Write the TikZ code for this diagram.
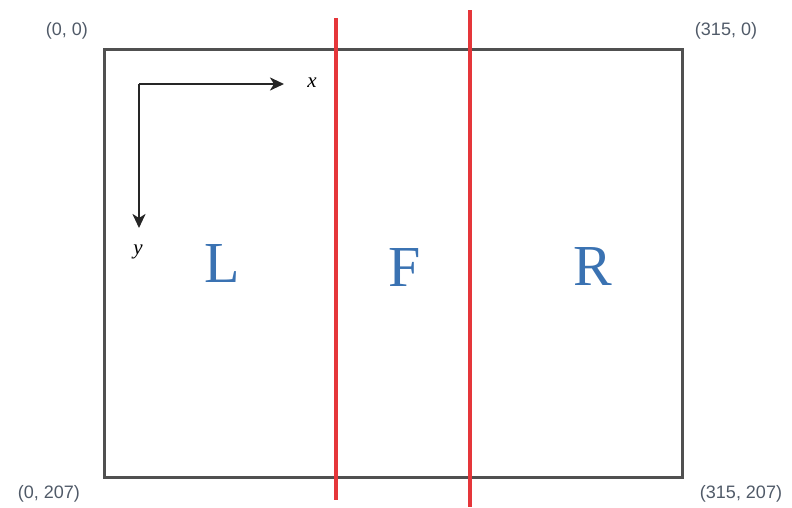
\documentclass[tikz,border=0pt]{standalone}
\usepackage{fontspec}
\setmainfont{Liberation Serif}
\newfontfamily\lblfont{Liberation Sans}
\usetikzlibrary{arrows.meta}
\definecolor{boxgray}{HTML}{505050}
\definecolor{redline}{HTML}{E5363A}
\definecolor{regblue}{HTML}{3A72B2}
\definecolor{lblgray}{HTML}{505A68}
\begin{document}
\begin{tikzpicture}[x=1pt,y=-1pt,
  corner/.style={font=\lblfont\fontsize{18}{20}\selectfont, text=lblgray, inner sep=0pt},
  region/.style={font=\fontsize{58}{64}\selectfont, text=regblue, inner sep=0pt},
  axlbl/.style={font=\itshape\fontsize{21}{23}\selectfont, inner sep=0pt},
  axis/.style={line width=2.8pt, draw=black!85, -{Stealth[length=14pt,width=13pt,inset=4pt]}}]
\useasboundingbox (0,0) rectangle (792,507);
\node[draw=boxgray, line width=3pt, minimum width=578pt, minimum height=428pt, inner sep=0pt, anchor=north west] (box) at (103,48) {};
\coordinate (r1t) at (336,18); \coordinate (r1b) at (336,500);
\coordinate (r2t) at (470,10); \coordinate (r2b) at (470,507);
\draw[redline, line width=3.2pt] (r1t) -- (r1b);
\draw[redline, line width=3.2pt] (r2t) -- (r2b);
\coordinate (o) at (139,84);
\coordinate (xe) at (284,84);
\coordinate (ye) at (139,228);
\draw[axis] (o) -- (xe);
\draw[axis] (o) -- (ye);
\node[axlbl] (xl) at (312,83) {x};
\node[axlbl] (yl) at (138,252) {y};
\node[region] (L) at (222,264) {L};
\node[region] (F) at (405,268) {F};
\node[region] (R) at (593,267) {R};
\node[corner] (c00) at (67,31) {(0, 0)};
\node[corner] (c10) at (726,31) {(315, 0)};
\node[corner] (c01) at (49,494) {(0, 207)};
\node[corner] (c11) at (741,494) {(315, 207)};
\end{tikzpicture}
\end{document}
